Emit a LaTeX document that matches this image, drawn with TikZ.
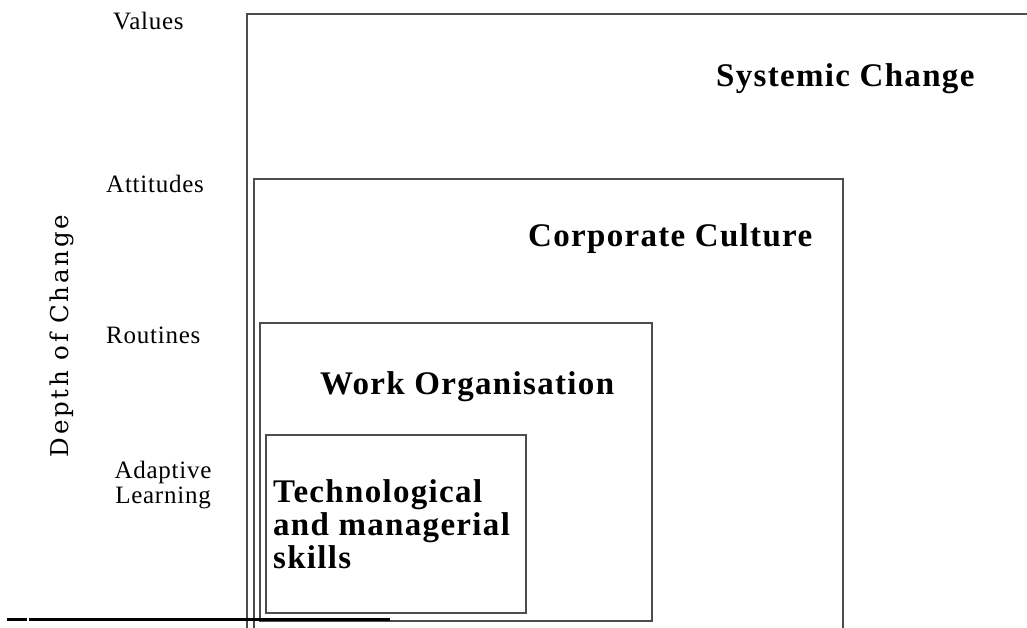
\documentclass[tikz,border=0pt]{standalone}
\usepackage{fontspec}
\setmainfont{Liberation Serif}
\newfontfamily\boxfont{Liberation Serif}[LetterSpace=4]
\newfontfamily\lblfont{Liberation Serif}[LetterSpace=3]
\newfontfamily\axisfont{DejaVu Serif}[LetterSpace=11]
\begin{document}
\begin{tikzpicture}[x=1pt,y=-1pt,
  frame/.style={draw=black!70,line width=1.1pt},
  rule/.style={draw=black,line width=3pt},
  title/.style={anchor=base west,inner sep=0pt,font=\boxfont\bfseries\fontsize{33}{33}\selectfont},
  lvl/.style={anchor=base west,inner sep=0pt,font=\lblfont\fontsize{25}{25}\selectfont}]
\useasboundingbox (0,0) rectangle (1027,628);
% boxes
\draw[frame] (247,640) -- (247,14) -- (1040,14);
\draw[frame] (254,640) -- (254,179) -- (843,179) -- (843,640);
\draw[frame] (260,323) rectangle (652,621);
\draw[frame] (266,435) rectangle (526,613);
% base rule
\draw[rule] (7,619) -- (27,619);
\draw[rule] (29,619) -- (390,619);
% titles
\node[title] (sys) at (716,87) {Systemic Change};
\node[title] (corp) at (528,247) {Corporate Culture};
\node[title] (work) at (320,394) {Work Organisation};
\node[title,align=left,anchor=north west] (tech) at (273,479) {Technological\\and managerial\\skills};
% level labels
\node[lvl] (val) at (113,30) {Values};
\node[lvl] (att) at (106,193) {Attitudes};
\node[lvl] (rou) at (106,343) {Routines};
\node[lvl,anchor=south,align=center,font=\lblfont\fontsize{25}{25}\selectfont] (ada) at (163,509) {Adaptive\\Learning};
% axis
\node[rotate=90,inner sep=0pt,font=\axisfont\fontsize{24.5}{27}\selectfont] (axis) at (62,336) {Depth of Change};
\end{tikzpicture}
\end{document}
